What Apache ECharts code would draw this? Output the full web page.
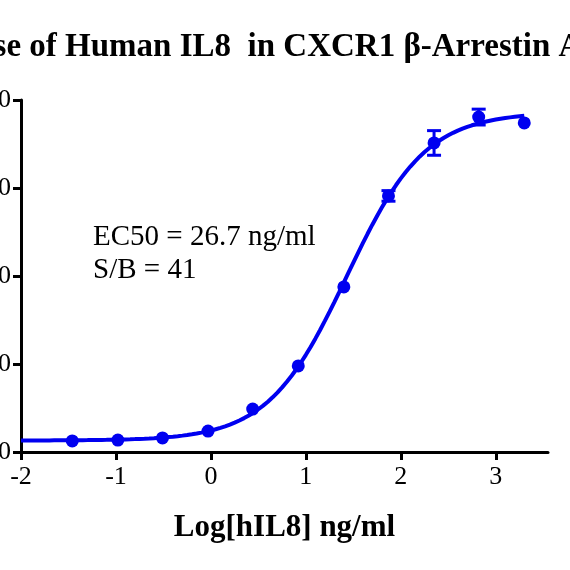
<!DOCTYPE html>
<html><head><meta charset="utf-8">
<script src="https://cdn.jsdelivr.net/npm/echarts@6/dist/echarts.min.js"></script>
<style>html,body{margin:0;padding:0;overflow:hidden;width:570px;height:570px;background:#fff}
#c{position:absolute;left:-120px;top:0;width:810px;height:570px}</style>
</head><body><div id="c"></div>
<script>
const logDose = [-1.46,-0.98,-0.51,-0.03,0.44,0.92,1.40,1.87,2.35,2.82,3.30];
const response = [6.3,6.8,8,11.9,24.4,48.9,93.8,145.5,175.6,190.3,187];
const errorBar = [0,0,0,0,0,0,0,3,7,4.5,0];
const fitParams = {bottom:6.5, top:193, logEC50:1.43, hill:1.05};
const xTicks = [-2,-1,0,1,2,3];
const yTicks = [0,50,100,150,200];

const curve = [];
for (let i=0;i<=106;i++){const x=-2+i*0.05;
  curve.push([x, fitParams.bottom+(fitParams.top-fitParams.bottom)/(1+Math.pow(10,(fitParams.logEC50-x)*fitParams.hill))]);}
const pts = logDose.map((x,i)=>[x,response[i]]);
const errs = logDose.map((x,i)=>[x,response[i]-errorBar[i],response[i]+errorBar[i]]).filter((d,i)=>errorBar[i]>0);
const blue='#0000f0';
const ch = echarts.init(document.getElementById('c'));
ch.setOption({
  animation:false,
  title:{text:'Dose Response of Human IL8  in CXCR1 β-Arrestin Assay',left:-72,top:26,
    textStyle:{fontFamily:'Liberation Serif',fontWeight:'bold',fontSize:33,color:'#000'}},
  grid:{left:141,right:142,top:100,bottom:118},
  xAxis:{type:'value',min:-2,max:3.55,interval:1,
    axisLine:{lineStyle:{color:'#000',width:3}},axisTick:{length:8,lineStyle:{width:3}},splitLine:{show:false},
    axisLabel:{showMaxLabel:false,color:'#000',fontFamily:'Liberation Serif',fontSize:26,margin:12},
    name:'Log[hIL8] ng/ml',nameLocation:'middle',nameGap:60,
    nameTextStyle:{color:'#000',fontFamily:'Liberation Serif',fontWeight:'bold',fontSize:31}},
  yAxis:{type:'value',min:0,max:200,interval:50,
    axisLine:{show:true,onZero:false,lineStyle:{color:'#000',width:3}},axisTick:{show:true,length:8,lineStyle:{width:3}},splitLine:{show:false},
    axisLabel:{color:'#000',fontFamily:'Liberation Serif',fontSize:26,margin:10}},
  graphic:[{type:'text',left:213,top:221,style:{text:'EC50 = 26.7 ng/ml\nS/B = 41',fontFamily:'Liberation Serif',fontSize:29,lineHeight:33,fill:'#000'}}],
  series:[
    {type:'line',data:curve,showSymbol:false,lineStyle:{color:blue,width:4},z:2},
    {type:'scatter',data:pts,symbolSize:13,itemStyle:{color:blue,opacity:1},z:3},
    {type:'custom',data:errs,z:3,renderItem:(p,api)=>{
      const lo=api.coord([api.value(0),api.value(1)]),hi=api.coord([api.value(0),api.value(2)]);
      const w=7,s={stroke:blue,lineWidth:3};
      return {type:'group',children:[
        {type:'line',shape:{x1:lo[0],y1:lo[1],x2:hi[0],y2:hi[1]},style:s},
        {type:'line',shape:{x1:lo[0]-w,y1:lo[1],x2:lo[0]+w,y2:lo[1]},style:s},
        {type:'line',shape:{x1:hi[0]-w,y1:hi[1],x2:hi[0]+w,y2:hi[1]},style:s}]};
    }}
  ]
});
</script></body></html>
